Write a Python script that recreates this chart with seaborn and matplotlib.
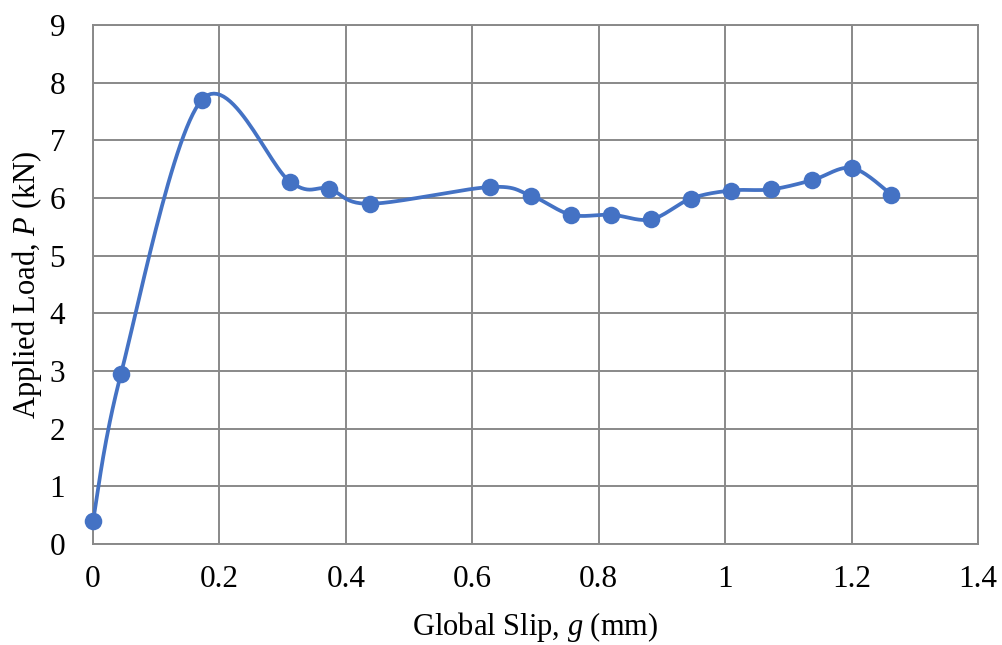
import numpy as np
import pandas as pd
import seaborn as sns
import matplotlib.pyplot as plt

# values
slip = [0.0, 0.044, 0.172, 0.312, 0.373, 0.438, 0.628, 0.693, 0.756,
        0.820, 0.883, 0.946, 1.009, 1.073, 1.138, 1.201, 1.263]
load = [0.40, 2.94, 7.70, 6.28, 6.16, 5.90, 6.19, 6.04, 5.71,
        5.71, 5.63, 5.99, 6.13, 6.15, 6.31, 6.52, 6.06]
x_ticks = [0, 0.2, 0.4, 0.6, 0.8, 1, 1.2, 1.4]
y_ticks = list(range(0, 10))

sns.set_theme(style="white")
plt.rcParams['font.family'] = ['Liberation Serif', 'DejaVu Serif']
plt.rcParams['mathtext.fontset'] = 'custom'
plt.rcParams['mathtext.rm'] = 'Liberation Serif'
plt.rcParams['mathtext.it'] = 'Liberation Serif:italic'
plt.rcParams['text.color'] = 'black'
plt.rcParams['axes.labelcolor'] = 'black'

blue = '#4472C4'
grid = '#898989'


def smooth(xs, ys, n=30):
    # Excel-like smoothed line: cubic Bezier segments through the points
    p = np.column_stack([xs, ys])
    out = [p[0]]
    for i in range(len(p) - 1):
        p0 = p[i - 1] if i > 0 else p[i]
        p3 = p[i + 2] if i + 2 < len(p) else p[i + 1]
        c1 = p[i] + (p[i + 1] - p0) / 6
        c2 = p[i + 1] - (p3 - p[i]) / 6
        t = np.linspace(0, 1, n)[1:, None]
        seg = ((1 - t) ** 3 * p[i] + 3 * (1 - t) ** 2 * t * c1
               + 3 * (1 - t) * t ** 2 * c2 + t ** 3 * p[i + 1])
        out.extend(seg)
    out = np.array(out)
    return pd.DataFrame({'g': out[:, 0], 'P': out[:, 1]})


df = pd.DataFrame({'g': slip, 'P': load})
curve = smooth(slip, load)

fig, ax = plt.subplots(figsize=(10.03, 6.45), dpi=100)
fig.subplots_adjust(left=93 / 1003, right=978 / 1003, top=1 - 25 / 645, bottom=1 - 544 / 645)

sns.lineplot(data=curve, x='g', y='P', sort=False, estimator=None,
             color=blue, linewidth=2.7, ax=ax, zorder=3)
sns.scatterplot(data=df, x='g', y='P', color=blue, s=160, linewidth=0,
                ax=ax, zorder=4, clip_on=False)

ax.set_xlim(0, 1.4)
ax.set_ylim(0, 9)
ax.set_xticks(x_ticks)
ax.set_xticklabels([f'{v:g}' for v in x_ticks])
ax.set_yticks(y_ticks)
ax.grid(True, color=grid, linewidth=1.4)
for s in ax.spines.values():
    s.set_color(grid)
    s.set_linewidth(1.4)
ax.tick_params(axis='both', length=0, labelsize=22.5, colors='black')
ax.tick_params(axis='y', pad=20)
ax.tick_params(axis='x', pad=15)

ax.set_xlabel('Global Slip, $\\mathit{g}$ (mm)', fontsize=22, labelpad=12)
ax.set_ylabel('Applied Load, $\\mathit{P}$ (kN)', fontsize=22, labelpad=4)

fig.savefig('out.png', dpi=100)
